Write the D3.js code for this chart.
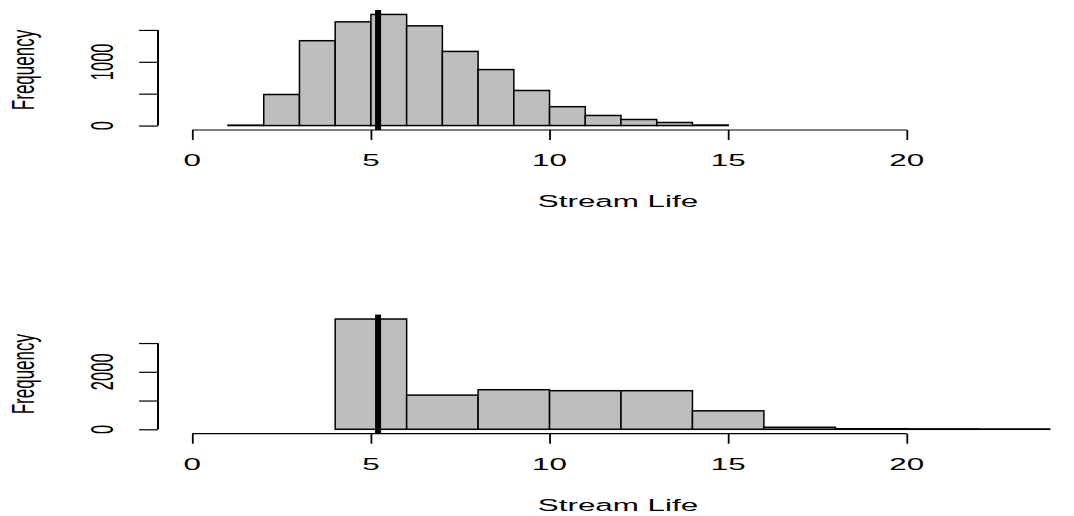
<!DOCTYPE html>
<html>
<head>
<meta charset="utf-8">
<script src="https://cdn.jsdelivr.net/npm/d3@7"></script>
<style>
  body { margin: 0; background: #fff; }
  text { font-family: "Liberation Sans", Arial, sans-serif; fill: #000; }
</style>
</head>
<body>
<svg id="chart" width="1074" height="516"></svg>
<script>
// histogram 1: unit bins from 1 to 15
var topBreaks = [1, 2, 3, 4, 5, 6, 7, 8, 9, 10, 11, 12, 13, 14, 15];
var topCounts = [6, 487, 1331, 1627, 1743, 1564, 1163, 878, 550, 296, 158, 95, 48, 8];
// histogram 2: bins of width 2 from 4 to 24
var bottomBreaks = [4, 6, 8, 10, 12, 14, 16, 18, 20, 22, 24];
var bottomCounts = [3836, 1189, 1377, 1342, 1342, 643, 70, 20, 15, 10];
var meanValue = 5.2;
var xTicks = [0, 5, 10, 15, 20];
var topYTicks = [0, 500, 1000, 1500];
var topYLabels = [0, 1000];
var bottomYTicks = [0, 1000, 2000, 3000];
var bottomYLabels = [0, 2000];
var xLabel = "Stream Life", yLabel = "Frequency";

var svg = d3.select("#chart");
var sx = 1.9;          // the original plot is stretched sideways
var xlim = [0, 24];

var x = d3.scaleLinear()
    .domain([xlim[0] - 0.04 * (xlim[1] - xlim[0]), xlim[1] + 0.04 * (xlim[1] - xlim[0])])
    .range([158, 1084]);

/* one histogram panel */
function panel(breaks, counts, yTicks, yLabels, top, bottom) {
  var g = svg.append("g");
  var maxC = d3.max(counts);
  var y = d3.scaleLinear()
      .domain([-0.04 * maxC, 1.04 * maxC])
      .range([bottom, top]);

  var bins = counts.map(function(c, i) { return {x0: breaks[i], x1: breaks[i + 1], n: c}; });

  g.selectAll("rect.bar")
    .data(bins)
    .enter().append("rect")
      .attr("class", "bar")
      .attr("x", function(d) { return x(d.x0); })
      .attr("y", function(d) { return y(d.n); })
      .attr("width", function(d) { return x(d.x1) - x(d.x0); })
      .attr("height", function(d) { return y(0) - y(d.n); })
      .attr("fill", "#bebebe")
      .attr("stroke", "#000")
      .attr("stroke-width", 1.5);

  // mean line
  g.append("line")
      .attr("x1", x(meanValue)).attr("x2", x(meanValue))
      .attr("y1", top).attr("y2", bottom)
      .attr("stroke", "#000")
      .attr("stroke-width", 6);

  /* x axis */
  var xa = g.append("g")
      .attr("transform", "translate(0," + bottom + ")")
      .call(d3.axisBottom(x).tickValues(xTicks).tickSize(10).tickFormat(""));
  xa.select(".domain").remove();
  xa.selectAll(".tick line").attr("stroke", "#000").attr("stroke-width", 1.8);
  xa.append("line")
      .attr("x1", x(xTicks[0])).attr("x2", x(xTicks[xTicks.length - 1]))
      .attr("stroke", "#000").attr("stroke-width", 1.2);

  g.selectAll("text.xt")
    .data(xTicks)
    .enter().append("text")
      .attr("class", "xt")
      .attr("text-anchor", "middle")
      .attr("font-size", 16.5)
      .attr("transform", function(d) { return "translate(" + x(d) + "," + (bottom + 36) + ") scale(" + sx + ",1)"; })
      .text(function(d) { return d; });

  g.append("text")
      .attr("text-anchor", "middle")
      .attr("font-size", 16.5)
      .attr("transform", "translate(618," + (bottom + 77) + ") scale(" + sx + ",1)")
      .text(xLabel);

  /* y axis */
  var ya = g.append("g")
      .attr("transform", "translate(" + x.range()[0] + ",0)")
      .call(d3.axisLeft(y).tickValues(yTicks).tickSize(19).tickFormat(""));
  ya.select(".domain").remove();
  ya.selectAll(".tick line").attr("stroke", "#000").attr("stroke-width", 1.2);
  ya.append("line")
      .attr("y1", y(yTicks[0])).attr("y2", y(yTicks[yTicks.length - 1]))
      .attr("stroke", "#000").attr("stroke-width", 2);

  g.selectAll("text.yt")
    .data(yLabels)
    .enter().append("text")
      .attr("class", "yt")
      .attr("text-anchor", "middle")
      .attr("font-size", 16.5)
      .attr("transform", function(d) { return "translate(113," + y(d) + ") scale(" + sx + ",1) rotate(-90)"; })
      .text(function(d) { return d; });

  g.append("text")
      .attr("text-anchor", "middle")
      .attr("font-size", 17)
      .attr("transform", "translate(34," + ((top + bottom) / 2) + ") scale(" + sx + ",1) rotate(-90)")
      .text(yLabel);
}

panel(topBreaks, topCounts, topYTicks, topYLabels, 10, 130);
panel(bottomBreaks, bottomCounts, bottomYTicks, bottomYLabels, 314.6, 433.7);
</script>
</body>
</html>
